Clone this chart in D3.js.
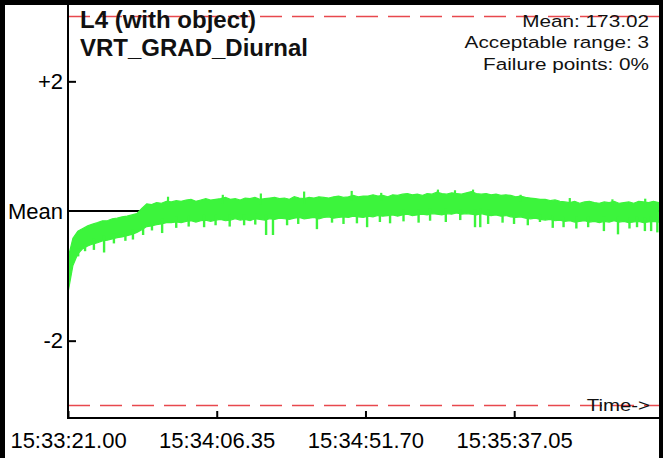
<!DOCTYPE html>
<html><head><meta charset="utf-8">
<script src="https://cdn.jsdelivr.net/npm/d3@7"></script>
<style>
html,body{margin:0;padding:0;background:#fff;}
svg{display:block;font-family:"Liberation Sans",Arial,Helvetica,sans-serif;}
</style></head>
<body><svg id="chart" width="663" height="458"></svg>
<script>
// ---------------- data ----------------
const titleLines = ["L4 (with object)", "VRT_GRAD_Diurnal"];
const infoLines = ["Mean: 173.02", "Acceptable range: 3", "Failure points: 0%"];
const xTickSeconds = [0, 45.35, 90.7, 136.05];
const xTickLabels = ["15:33:21.00", "15:34:06.35", "15:34:51.70", "15:35:37.05"];
const yTickValues = [-2, 0, 2];
const yTickLabels = ["-2", "Mean", "+2"];
const acceptableRange = 3;
const sampleInterval = 1.5;   // seconds between samples
const totalSeconds = 180.2;
// deviation from mean (in range units): upper / lower edge of the noisy trace
const bandHigh = [
  -0.73,-0.42,-0.31,-0.27,-0.23,-0.20,-0.18,-0.15,-0.15,-0.12,-0.11,-0.09,-0.08,-0.06,-0.04,
  0.04,0.11,0.10,0.13,0.12,0.15,
  0.14,0.16,0.15,0.17,0.18,0.15,0.17,0.19,0.17,0.18,0.19,0.21,0.18,0.19,0.17,0.20,0.19,0.21,0.18,0.19,
  0.20,0.21,0.19,0.20,0.18,0.22,0.20,0.19,0.21,0.20,0.22,0.21,0.20,0.22,0.23,0.21,0.22,0.24,0.22,0.23,
  0.23,0.25,0.23,0.24,0.22,0.25,0.24,0.26,0.27,0.25,0.26,0.24,0.27,0.26,0.29,0.27,0.26,0.28,0.27,0.26,
  0.28,0.30,0.27,0.26,0.27,0.25,0.26,0.24,0.25,0.24,0.22,0.23,0.21,0.20,0.19,0.18,0.18,0.16,0.17,0.15,
  0.14,0.13,0.15,0.12,0.14,0.15,0.13,0.12,0.14,0.13,0.15,0.12,0.13,0.14,0.12,0.15,0.14,0.13,0.15,0.13];
const bandLow = [
  -1.26,-0.84,-0.66,-0.58,-0.54,-0.51,-0.49,-0.46,-0.45,-0.43,-0.41,-0.40,-0.38,-0.36,-0.33,
  -0.29,-0.24,-0.23,-0.21,-0.20,-0.18,
  -0.18,-0.17,-0.18,-0.16,-0.15,-0.17,-0.15,-0.14,-0.16,-0.14,-0.13,-0.15,-0.14,-0.12,-0.14,-0.13,-0.15,-0.12,-0.13,-0.14,
  -0.12,-0.13,-0.11,-0.12,-0.13,-0.11,-0.10,-0.12,-0.11,-0.10,-0.12,-0.10,-0.09,-0.11,-0.10,-0.09,-0.10,-0.08,-0.09,-0.10,
  -0.08,-0.09,-0.07,-0.08,-0.07,-0.06,-0.08,-0.06,-0.05,-0.07,-0.06,-0.05,-0.06,-0.04,-0.05,-0.06,-0.04,-0.05,-0.03,-0.05,
  -0.04,-0.05,-0.06,-0.04,-0.06,-0.07,-0.06,-0.08,-0.07,-0.09,-0.10,-0.09,-0.11,-0.12,-0.11,-0.13,-0.14,-0.13,-0.15,-0.14,
  -0.16,-0.15,-0.17,-0.16,-0.15,-0.17,-0.16,-0.18,-0.16,-0.17,-0.15,-0.17,-0.16,-0.18,-0.17,-0.16,-0.18,-0.17,-0.16,-0.17];
// downward spikes in the trace
const spikeTime = [7.9, 11.0, 22.9, 28.7, 60.4, 62.5, 75.9, 88.1, 91.2, 98.2,
  124.1, 125.7, 128.1, 143.9, 163.4, 167.7, 175.9, 177.8, 179.7,
  3.1, 5.2, 14.0, 17.5, 19.8, 25.6, 33.0, 36.8, 41.5, 45.0, 49.3, 53.7, 57.1, 66.8, 70.2,
  80.5, 84.0, 95.1, 102.3, 106.9, 110.4, 115.2, 119.6, 132.5, 136.0, 140.2, 147.8, 151.1,
  155.0, 158.6, 171.2, 173.5];
const spikeLow = [-0.60, -0.64, -0.37, -0.34, -0.37, -0.37, -0.28, -0.19, -0.25, -0.19,
  -0.25, -0.25, -0.20, -0.17, -0.31, -0.36, -0.31, -0.31, -0.33,
  -0.70, -0.62, -0.50, -0.46, -0.44, -0.30, -0.26, -0.24, -0.25, -0.22, -0.24, -0.22, -0.21, -0.22, -0.20,
  -0.18, -0.20, -0.17, -0.16, -0.18, -0.15, -0.17, -0.14, -0.18, -0.20, -0.22, -0.26, -0.25,
  -0.27, -0.25, -0.27, -0.25];
// upward spikes in the trace
const peakTime = [30.5, 47.2, 58.8, 72.0, 86.5, 95.5, 112.8, 118.0, 123.5, 138.0, 153.0, 166.0, 176.0];
const peakHigh = [0.22, 0.25, 0.27, 0.30, 0.31, 0.28, 0.33, 0.32, 0.33, 0.25, 0.20, 0.18, 0.19];

// ---------------- drawing ----------------
const svg = d3.select("#chart");
const W = 663, H = 458;
const left = 68, right = 659, axisY = 418;
const x = d3.scaleLinear().domain([0, totalSeconds]).range([left, right]);
const y = d3.scaleLinear().domain([-acceptableRange, acceptableRange]).range([405.5, 16.5]);
const idx = t => Math.max(0, Math.min(bandHigh.length - 1, Math.round(t / sampleInterval)));

svg.append("rect").attr("width", W).attr("height", H).attr("fill", "#fff");

// mean line (under the trace)
svg.append("line").attr("x1", left).attr("x2", right)
  .attr("y1", y(0)).attr("y2", y(0)).attr("stroke", "#000").attr("stroke-width", 2);

// trace
const green = "#3cf43c";
const area = d3.area()
  .x((d, i) => x(i * sampleInterval))
  .y0((d, i) => y(bandLow[i]))
  .y1((d, i) => y(bandHigh[i]));
svg.append("path").datum(bandHigh).attr("d", area).attr("fill", green)
  .attr("stroke", green).attr("stroke-width", 1.2);
svg.append("g").selectAll("line").data(spikeTime).join("line")
  .attr("x1", d => x(d)).attr("x2", d => x(d))
  .attr("y1", d => y(bandLow[idx(d)] + 0.08))
  .attr("y2", (d, i) => y(spikeLow[i]))
  .attr("stroke", green).attr("stroke-width", 2.4);
svg.append("g").selectAll("line").data(peakTime).join("line")
  .attr("x1", d => x(d)).attr("x2", d => x(d))
  .attr("y1", d => y(bandHigh[idx(d)] - 0.08))
  .attr("y2", (d, i) => y(peakHigh[i]))
  .attr("stroke", green).attr("stroke-width", 2.2);

// acceptable range limits
[acceptableRange, -acceptableRange].forEach(v => {
  svg.append("line").attr("x1", left).attr("x2", right)
    .attr("y1", y(v)).attr("y2", y(v))
    .attr("stroke", "#e8484e").attr("stroke-width", 1.6)
    .attr("stroke-dasharray", "22,10");
});

// y axis
const yAxis = d3.axisLeft(y).tickValues(yTickValues)
  .tickFormat((d, i) => yTickLabels[i]).tickSize(-8).tickPadding(5);
const gy = svg.append("g").attr("transform", `translate(${left},0)`).call(yAxis);
gy.select(".domain").remove();
gy.selectAll(".tick line").attr("stroke", "#000").attr("stroke-width", 2)
  .filter(d => d === 0).remove();
gy.selectAll(".tick text").attr("font-size", 22).attr("fill", "#000")
  .attr("font-family", "Liberation Sans, Arial, sans-serif");
svg.append("line").attr("x1", left).attr("x2", left).attr("y1", 0).attr("y2", axisY + 1)
  .attr("stroke", "#000").attr("stroke-width", 2);

// x axis
const xAxis = d3.axisBottom(x).tickValues(xTickSeconds)
  .tickFormat((d, i) => xTickLabels[i]).tickSize(-7).tickPadding(14);
const gx = svg.append("g").attr("transform", `translate(0,${axisY})`).call(xAxis);
gx.select(".domain").remove();
gx.selectAll(".tick line").attr("stroke", "#000").attr("stroke-width", 2);
gx.selectAll(".tick text").attr("font-size", 22).attr("fill", "#000")
  .attr("font-family", "Liberation Sans, Arial, sans-serif");
svg.append("line").attr("x1", left - 1).attr("x2", right).attr("y1", axisY).attr("y2", axisY)
  .attr("stroke", "#000").attr("stroke-width", 2);

// titles
svg.append("g").selectAll("text").data(titleLines).join("text")
  .attr("x", 80).attr("y", (d, i) => 28 + i * 28)
  .attr("font-size", 24).attr("font-weight", "bold").attr("fill", "#111")
  .text(d => d);

// info block (top right)
const info = svg.append("g").attr("transform", "translate(649,0) scale(1.22,1)");
info.selectAll("text").data(infoLines).join("text")
  .attr("x", 0).attr("y", (d, i) => 27 + i * 21.5)
  .attr("text-anchor", "end").attr("font-size", 17).attr("fill", "#111")
  .text(d => d);

svg.append("g").attr("transform", "translate(650,0) scale(1.2,1)")
  .append("text").attr("x", 0).attr("y", 411).attr("text-anchor", "end")
  .attr("font-size", 17).attr("fill", "#111").text("Time->");

// black frame
svg.append("rect").attr("x", 0).attr("y", 0).attr("width", W).attr("height", 5).attr("fill", "#000");
svg.append("rect").attr("x", 0).attr("y", 0).attr("width", 5).attr("height", H).attr("fill", "#000");
svg.append("rect").attr("x", 659).attr("y", 0).attr("width", 4).attr("height", H).attr("fill", "#000");
</script></body></html>
